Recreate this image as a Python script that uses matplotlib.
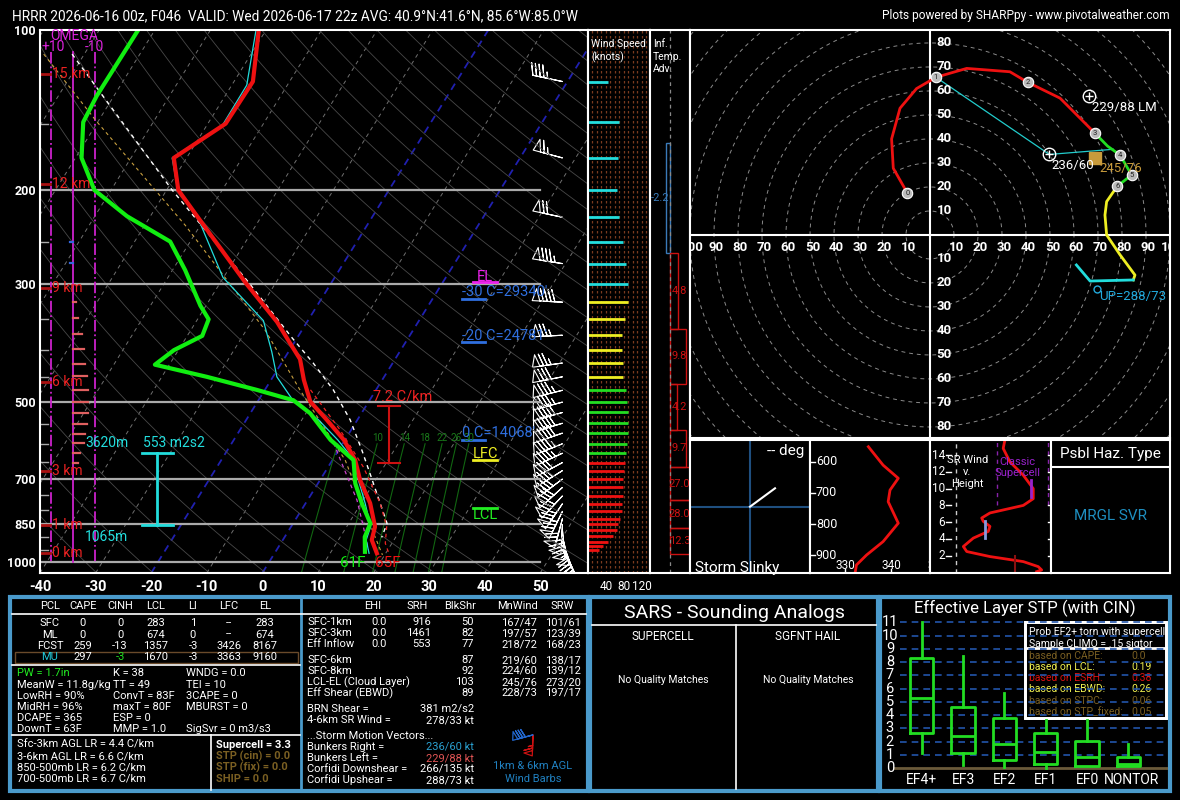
import numpy as np
import matplotlib
matplotlib.use('Agg')
import matplotlib.pyplot as plt
from matplotlib.patches import Rectangle
from matplotlib.ticker import NullLocator

plt.rcParams['font.family'] = ['Roboto', 'DejaVu Sans']

# ---------------- sounding data ----------------
temp_p = [100, 125, 150, 174, 200, 228, 300, 354, 388, 416, 455, 500, 541, 590, 644, 702, 776, 859, 910, 964]
temp_c = [-61.3, -56.6, -56.8, -62.3, -57.9, -50.6, -35.2, -25.4, -20.7, -17.1, -14.1, -10.5, -5.5, -0.2,
          4.1, 7.2, 11.6, 15.1, 16.0, 18.4]
dwpt_p = [100, 133, 149, 174, 200, 224, 250, 283, 330, 350, 376, 400, 426, 449, 475, 497, 526, 590, 644,
          712, 776, 847, 898, 958]
dwpt_c = [-83.0, -83.1, -82.6, -78.9, -73.0, -64.2, -53.6, -47.7, -41.0, -38.0, -37.3, -40.8, -42.6, -31.9,
          -21.5, -13.7, -9.2, -2.6, 3.8, 6.7, 10.1, 13.9, 14.4, 16.1]
wetb_p = [100, 127, 151, 174, 200, 228, 292, 352, 403, 449, 496, 541, 590, 644, 702, 776, 859, 910, 964]
wetb_c = [-61.8, -57.3, -57.2, -62.6, -58.0, -50.8, -40.1, -28.0, -23.0, -19.3, -13.9, -7.0, -1.3, 3.9,
          6.9, 10.7, 14.3, 15.0, 17.0]
parcel_p = [111, 200, 296, 380, 423, 475, 541, 617, 690, 755, 847, 900]
parcel_c = [-92.2, -59.0, -35.4, -20.8, -14.3, -7.7, -1.3, 4.2, 8.7, 12.3, 16.9, 17.5]
vparcel_p = [475, 565, 663, 776, 859, 923, 958]
vparcel_c = [-11.8, -2.0, 6.3, 13.4, 17.2, 18.8, 20.3]
moist_p = [111, 148, 233, 367, 476, 644, 872, 971]
moist_c = [-97.3, -80.5, -52.7, -26.6, -13.6, 2.3, 15.0, 19.6]
dcape_p = [598, 663, 766, 859, 950]
dcape_c = [-1.7, 2.7, 8.9, 13.0, 16.5]

wind_p = [125, 149, 174, 200, 225, 250, 275, 301, 325, 350, 375, 400, 423, 449, 476, 501, 524, 549, 573,
          600, 625, 651, 674, 699, 725, 752, 778, 804, 830, 851, 872, 895, 917, 933, 950]
wind_dir = [282, 286, 285, 283, 282, 281, 279, 276, 273, 270, 267, 264, 262, 259, 256, 255, 254, 253, 251,
            248, 245, 242, 238, 233, 228, 223, 214, 206, 195, 183, 175, 167, 160, 156, 152]
wind_spd = [44, 69, 66, 64, 70, 78, 84, 88, 88, 82, 75, 75, 77, 79, 84, 86, 88, 88, 88, 86, 84, 82, 81,
            79, 78, 77, 75, 75, 71, 66, 64, 56, 45, 34, 24]

omega_p = [250, 274, 325, 348, 373, 398, 424, 448, 475, 501, 525, 550, 575, 598, 625, 652]
omega_v = [1.4, 1.4, -1.4, -2.3, -4.0, -5.0, -5.5, -6.4, -6.8, -6.8, -6.8, -6.4, -5.5, -5.0, -3.2, -2.3]

hgt_km = [0, 1, 3, 6, 9, 12, 15]
hgt_p = [964, 852, 674, 460, 306, 195, 121]

mix_w = [6, 10, 14, 18, 22, 26, 30]

tadv_top = [163, 263, 364.5, 463, 565, 663.6, 765.5, 864]
tadv_bot = [263, 364.5, 463, 565, 663.6, 765.5, 864, 967]
tadv_val = [-2.2, 4.8, 9.8, 4.2, 9.7, 27.0, 28.0, 12.3]

hodo_u = [-9.4, -15.3, -16.0, -12.5, -5.6, 2.5, 15.3, 33.3, 40.7, 54.2, 68.75, 74.0, 79.2, 84.0, 78.0,
          73.6, 72.9, 73.6, 79.2, 85.4, 84.7, 66.7, 61.0]
hodo_v = [17.4, 27.8, 40.0, 52.8, 61.0, 65.7, 69.4, 68.0, 63.6, 57.0, 42.4, 37.0, 33.3, 25.0, 20.3,
          13.9, 8.3, 0.0, -8.3, -16.7, -18.75, -19.2, -12.5]
hodo_z = [0, 0.2, 0.4, 0.6, 0.8, 1, 1.3, 1.7, 2, 2.4, 3, 3.5, 4, 5, 6, 6.5, 7, 7.6, 8.2, 8.7, 9, 9.5, 10]
inflow_u = [2.5, 76.4]
inflow_v = [65.7, 35.7]
rm_dir, rm_spd = 236, 60
lm_dir, lm_spd = 229, 88
mw_dir, mw_spd = 245, 76
up_dir, up_spd = 288, 73

thetae_p = [552, 611, 653, 691, 728, 797, 856, 899, 931, 957]
thetae_k = [335.1, 338.3, 341.6, 339.8, 339.4, 341.6, 338.3, 334.7, 332.5, 332.2]

srw_z = [15.8, 14.8, 13.2, 11.6, 10.0, 8.8, 8.0, 7.1, 6.5, 6.1, 5.5, 4.9, 4.1, 3.1, 2.5, 1.9, 1.3, 0.7, 0.3, 0.1]
srw_kt = [48.1, 47.0, 51.3, 59.9, 66.3, 66.3, 59.9, 38.5, 33.2, 34.2, 38.5, 37.4, 27.8, 21.4, 23.6, 38.5,
          59.9, 69.5, 71.7, 68.5]

stp_cats = ['EF4+', 'EF3', 'EF2', 'EF1', 'EF0', 'NONTOR']
stp_whislo = [1.13, 0.25, 0.13, 0.0, 0.18, 0.18]
stp_q1 = [2.64, 1.13, 0.63, 0.33, 0.18, 0.18]
stp_med = [5.33, 2.46, 1.81, 1.2, 0.88, 0.33]
stp_q3 = [8.34, 4.6, 3.77, 2.69, 2.09, 0.83]
stp_whishi = [11.0, 8.47, 5.65, 3.64, 3.64, 1.83]

pcl_hdr = ['PCL', 'CAPE', 'CINH', 'LCL', 'LI', 'LFC', 'EL']
pcl_rows = [['SFC', '0', '0', '283', '1', '--', '283'],
            ['ML', '0', '0', '674', '0', '--', '674'],
            ['FCST', '259', '-13', '1357', '-3', '3426', '8167'],
            ['MU', '297', '-3', '1670', '-3', '3363', '9160']]
idx_col1 = ['PW = 1.7in', 'MeanW = 11.8g/kg', 'LowRH = 90%', 'MidRH = 96%', 'DCAPE = 365', 'DownT = 63F']
idx_col2 = ['K = 38', 'TT = 49', 'ConvT = 83F', 'maxT = 80F', 'ESP = 0', 'MMP = 1.0']
idx_col3 = ['WNDG = 0.0', 'TEI = 10', '3CAPE = 0', 'MBURST = 0', '', 'SigSvr = 0 m3/s3']
lapse_txt = ['Sfc-3km AGL LR = 4.4 C/km', '3-6km AGL LR = 6.6 C/km', '850-500mb LR = 6.2 C/km',
             '700-500mb LR = 6.7 C/km']
sev_txt = ['Supercell = 3.3', 'STP (cin) = 0.0', 'STP (fix) = 0.0', 'SHIP = 0.0']
kin_hdr = ['EHI', 'SRH', 'BlkShr', 'MnWind', 'SRW']
kin_rows = [['SFC-1km', '0.0', '916', '50', '167/47', '101/61'],
            ['SFC-3km', '0.0', '1461', '82', '197/57', '123/39'],
            ['Eff Inflow', '0.0', '553', '77', '218/72', '168/23'],
            ['SFC-6km', '', '', '87', '219/60', '138/17'],
            ['SFC-8km', '', '', '92', '224/60', '139/12'],
            ['LCL-EL (Cloud Layer)', '', '', '103', '245/76', '273/20'],
            ['Eff Shear (EBWD)', '', '', '89', '228/73', '197/17']]
motion_txt = [('BRN Shear =', '381 m2/s2'), ('4-6km SR Wind =', '278/33 kt')]
storm_txt = [('Bunkers Right =', '236/60 kt'), ('Bunkers Left =', '229/88 kt'),
             ('Corfidi Downshear =', '266/135 kt'), ('Corfidi Upshear =', '288/73 kt')]
prob_txt = [('based on CAPE:', '0.0'), ('based on LCL:', '0.19'), ('based on ESRH:', '0.38'),
            ('based on EBWD:', '0.26'), ('based on STPC:', '0.06'), ('based on STP_fixed:', '0.05')]
agl_dir = [182, 255]
agl_spd = [66, 78]

BROWN = '#7a5f22'
BLUE_BOX = '#4a9acb'
W, H = 1180, 800
fig = plt.figure(figsize=(W / 100, H / 100), dpi=100, facecolor='black')


def rect(x0, y0, x1, y1):
    return [x0 / W, 1 - y1 / H, (x1 - x0) / W, (y1 - y0) / H]


def uv(d, s):
    d = np.radians(np.asarray(d, float))
    s = np.asarray(s, float)
    return -s * np.sin(d), -s * np.cos(d)


# overlay in pixel coordinates for header and tables
ov = fig.add_axes([0, 0, 1, 1])
ov.set_xlim(0, W)
ov.set_ylim(H, 0)
ov.axis('off')


def t(x, y, s, c='white', size=8, ha='left', **kw):
    ov.text(x, y, s, color=c, fontsize=size, ha=ha, va='center', **kw)


t(12, 16, 'HRRR 2026-06-16 00z, F046  VALID: Wed 2026-06-17 22z AVG: 40.9°N:41.6°N, 85.6°W:85.0°W', size=9.9)
t(1170, 16, 'Plots powered by SHARPpy - www.pivotalweather.com', size=8.6, ha='right')

# ---------------- skew-T ----------------
PB, PT, SKEW = 1050.0, 100.0, 25.8


def skx(tc, p):
    return np.asarray(tc, float) + SKEW * np.log(PB / np.asarray(p, float))


sk = fig.add_axes(rect(40, 30, 588, 573))
sk.set_facecolor('black')
sk.set_yscale('log')
sk.set_ylim(PB, PT)
sk.set_xlim(-40, 58.6)
pp = np.geomspace(PB, PT, 80)
for tt in range(-170, 60, 10):
    if tt in (0, -20):
        sk.plot(skx(tt, pp), pp, color='#2020b0', ls=(0, (4, 3)), lw=1.3)
    else:
        sk.plot(skx(tt, pp), pp, color='#707070', ls=(0, (4, 4)), lw=0.7)
for th in range(230, 540, 10):
    sk.plot(skx(th * (pp / 1000.0) ** 0.2857 - 273.15, pp), pp, color='#484848', lw=0.6)
pm = np.geomspace(PB, 600, 30)
for w in mix_w:
    e = w * pm / (622.0 + w)
    lne = np.log(e / 6.112)
    td = 243.5 * lne / (17.67 - lne)
    sk.plot(skx(td, pm), pm, color='#116611', lw=0.8)
    if w >= 10:
        sk.text(skx(td[-1], 600)[()], 585, str(w), color='#1a7a1a', fontsize=7, ha='center', va='center')
for lev in [200, 300, 500, 700, 850, 1000]:
    sk.plot([-40, 50], [lev, lev], color='#aaaaaa', lw=1.6)
for lev in [150, 250, 350, 400, 450, 550, 600, 650, 750, 800, 900, 950]:
    sk.plot([-40, -38.6], [lev, lev], color='#aaaaaa', lw=1)

# omega
for xo, ls in [(-38.0, '-.'), (-30.1, '-.'), (-34.1, '-')]:
    sk.plot([xo, xo], [110, 1000], color='#cc22cc', ls=ls, lw=1.3)
for po, om in zip(omega_p, omega_v):
    sk.plot([-34.1, -34.1 - 0.396 * om], [po, po], color='#e06060' if om < 0 else '#3366dd', lw=1.6)
sk.text(-38.2, 102.6, 'OMEGA', color='#dd22dd', fontsize=10, va='center')
sk.text(-39.8, 107.7, '+10', color='#dd22dd', fontsize=10, va='center')
sk.text(-31.9, 107.7, '-10', color='#dd22dd', fontsize=10, va='center')

# heights
for km, hp in zip(hgt_km, hgt_p):
    sk.plot([-40, -38.2], [hp, hp], color='#aa1111', lw=2)
    sk.text(-37.8, hp, f'{km} km', color='#ee2222', fontsize=10, va='center')

# profiles
sk.plot(skx(moist_c, moist_p), moist_p, color='#c8a040', ls=(0, (3, 3)), lw=0.8)
sk.plot(skx(parcel_c, parcel_p), parcel_p, color='white', ls=(0, (3, 3)), lw=1)
sk.plot(skx(vparcel_c, vparcel_p), vparcel_p, color='#ee2222', ls=(0, (3, 3)), lw=0.9)
sk.plot(skx(dcape_c, dcape_p), dcape_p, color='#cc44cc', ls=(0, (3, 3)), lw=0.9)
sk.plot(skx(wetb_c, wetb_p), wetb_p, color='#22dddd', lw=0.9)
sk.plot(skx(temp_c, temp_p), temp_p, color='#ee1111', lw=3)
sk.plot(skx(dwpt_c, dwpt_p), dwpt_p, color='#11ee11', lw=3)
sk.text(16.2, 1005, '61F', color='#11ee11', fontsize=11, ha='center', va='center')
sk.text(22.6, 1005, '65F', color='#ee1111', fontsize=11, ha='center', va='center')

# effective inflow layer & lapse rate bars
sk.plot([-19.0, -19.0], [625, 852], color='#22dddd', lw=2)
for cp in (625, 852):
    sk.plot([-21.7, -16.1], [cp, cp], color='#22dddd', lw=2)
sk.text(-31.9, 597, '3620m', color='#22dddd', fontsize=10, va='center')
sk.text(-21.5, 597, '553 m2s2', color='#22dddd', fontsize=10, va='center')
sk.text(-31.9, 897, '1065m', color='#22dddd', fontsize=10, va='center')
sk.plot([22.8, 22.8], [509, 653], color='#cc1111', lw=1.5)
for cp in (509, 653):
    sk.plot([20.9, 24.8], [cp, cp], color='#cc1111', lw=1.5)
sk.text(25.3, 488, '7.2 C/km', color='#ee2222', fontsize=10.5, ha='center', va='center')

# level markers
sk.text(40.1, 291, 'EL', color='#ee22ee', fontsize=10.5, ha='center', va='center')
sk.plot([37.9, 42.3], [298, 298], color='#ee22ee', lw=2)
for lab, tp, lp in [("-30 C=29340'", 311.5, 320.7), ("-20 C=24781'", 377, 386), ("0 C=14068'", 573.5, 590)]:
    sk.text(36.0, tp, lab, color='#2f6fdf', fontsize=10.5, va='center')
    sk.plot([36.0, 40.1], [lp, lp], color='#2f6fdf', lw=2)
sk.text(40.1, 627, 'LFC', color='#eeee22', fontsize=10.5, ha='center', va='center')
sk.plot([37.9, 42.3], [644, 644], color='#eeee22', lw=2)
sk.text(40.1, 817, 'LCL', color='#22ee22', fontsize=10.5, ha='center', va='center')
sk.plot([37.9, 42.3], [791, 791], color='#22ee22', lw=2)

# wind barbs (hollow pennants, as SHARPpy draws them)
bu, bv = uv(wind_dir, wind_spd)
keep = [i for i in range(len(wind_p)) if wind_p[i] > 440 or i % 2 == 0]
sk.barbs(np.full(len(keep), 54.0), np.array(wind_p)[keep], bu[keep], bv[keep], barbcolor='white',
         flagcolor='black', length=6.6, linewidth=0.8)

sk.set_yticks([100, 200, 300, 500, 700, 850, 1000])
sk.set_yticklabels(['100', '200', '300', '500', '700', '850', '1000'], fontweight='bold')
sk.yaxis.set_minor_locator(NullLocator())
sk.set_xticks(range(-40, 60, 10))
sk.set_xticklabels([str(v) for v in range(-40, 60, 10)], fontweight='bold')
sk.tick_params(colors='white', length=0, labelsize=10.5, pad=5)
sk.tick_params(axis='y', labelsize=9, pad=3)
for s in sk.spines.values():
    s.set_color('white')
    s.set_linewidth(1.5)

# ---------------- wind speed panel ----------------
wsp = fig.add_axes(rect(588, 30, 650, 573))
wsp.set_facecolor('black')
wsp.set_yscale('log')
wsp.set_ylim(PB, PT)
wsp.set_xlim(0, 138)
for s in range(10, 140, 10):
    wsp.axvline(s, color='#7a3b1f', ls=(0, (2, 2)), lw=0.9)
wcol = ['#ee1111' if p > 640 else '#22dd22' if p > 460 else '#eeee22' if p > 306 else '#22dddd'
        for p in wind_p]
wsp.hlines(wind_p, 0, wind_spd, colors=wcol, lw=2)
wsp.set_yticks([])
wsp.yaxis.set_minor_locator(NullLocator())
wsp.set_xticks([40, 80, 120])
wsp.tick_params(colors='white', length=0, labelsize=8.5, pad=5)
for s in wsp.spines.values():
    s.set_color('white')
    s.set_linewidth(1.5)
wsp.text(0.05, 0.983, 'Wind Speed\n(knots)', transform=wsp.transAxes, color='white', fontsize=7.5,
         va='top', linespacing=1.3)

# ---------------- inferred temperature advection ----------------
ta = fig.add_axes(rect(650, 30, 690, 573))
ta.set_facecolor('black')
ta.set_yscale('log')
ta.set_ylim(PB, PT)
ta.set_xlim(-12.5, 12.5)
ta.axvline(0, color='#888888', ls=(0, (3, 3)), lw=0.9)
for p0, p1, val in zip(tadv_top, tadv_bot, tadv_val):
    col = '#cc1111' if val > 0 else '#3a7ab8'
    ta.add_patch(Rectangle((0, p0), val, p1 - p0, fill=False, edgecolor=col, lw=1))
    ta.text(6.0 if val > 0 else -6.2, np.sqrt(p0 * p1), f'{val:.1f}', color=col, fontsize=8,
            ha='center', va='center')
ta.set_xticks([])
ta.set_yticks([])
ta.yaxis.set_minor_locator(NullLocator())
for s in ta.spines.values():
    s.set_color('white')
    s.set_linewidth(1.5)
ta.text(0.08, 0.983, 'Inf.\nTemp.\nAdv.', transform=ta.transAxes, color='white', fontsize=7.5, va='top',
        linespacing=1.3)

# ---------------- hodograph ----------------
hd = fig.add_axes(rect(690, 30, 1170, 438))
hd.set_facecolor('black')
hd.set_xlim(-100, 100)
hd.set_ylim(-84.6, 85.4)
ang = np.linspace(0, 2 * np.pi, 240)
for r in range(10, 140, 10):
    hd.plot(r * np.cos(ang), r * np.sin(ang), color='#8a8a8a', ls=(0, (4, 4)), lw=0.7)
hd.axhline(0, color='white', lw=1.5)
hd.axvline(0, color='white', lw=1.5)
for k in range(10, 90, 10):
    hd.text(2.8, k, str(k), color='white', fontsize=9.5, va='center', fontweight='bold')
    hd.text(2.8, -k, str(k), color='white', fontsize=9.5, va='center', fontweight='bold')
for k in range(10, 110, 10):
    hd.text(k + 1, -5.3, str(k), color='white', fontsize=9.5, ha='center', va='center', fontweight='bold',
            clip_on=True)
    hd.text(-k + 1, -5.3, str(k), color='white', fontsize=9.5, ha='center', va='center', fontweight='bold',
            clip_on=True)
hu, hv, hz = np.array(hodo_u), np.array(hodo_v), np.array(hodo_z)
ru, rv = uv(rm_dir, rm_spd)
lu, lv = uv(lm_dir, lm_spd)
mu_, mv_ = uv(mw_dir, mw_spd)
uu, uv_ = uv(up_dir, up_spd)
for xi, yi in zip(inflow_u, inflow_v):
    hd.plot([ru, xi], [rv, yi], color='#22cccc', lw=0.9)
for lo, hi, col in [(0, 3, '#ee1111'), (3, 6, '#22dd22'), (6, 9, '#eeee22'), (9, 12, '#22dddd')]:
    m = (hz >= lo) & (hz <= hi)
    hd.plot(hu[m], hv[m], color=col, lw=2)
for k in range(7):
    i = int(np.where(hz == k)[0][0])
    hd.plot(hu[i], hv[i], 'o', ms=7.5, mfc='#bbbbbb', mec='white', mew=0.8)
    hd.text(hu[i], hv[i], str(k), fontsize=5.5, color='#222222', ha='center', va='center')
for x0, y0 in [(ru, rv), (lu, lv)]:
    hd.plot(x0, y0, 'o', ms=9, mfc='none', mec='white', mew=1)
    hd.plot(x0, y0, '+', ms=6, color='white', mew=1)
hd.plot(mu_, mv_, 's', ms=8, mfc='#c89b3c', mec='#c89b3c')
hd.plot(uu, uv_, 'o', ms=5, mfc='none', mec='#22aadd', mew=1)
hd.text(ru + 1, rv - 4.5, f'{rm_dir}/{rm_spd}', color='white', fontsize=9.5, va='center')
hd.text(lu + 1, lv - 4.5, f'{lm_dir}/{lm_spd} LM', color='white', fontsize=9.5, va='center')
hd.text(mu_ + 1.7, mv_ - 4.5, f'{mw_dir}/{mw_spd}', color='#c89b3c', fontsize=9.5, va='center')
hd.text(uu + 1.2, uv_ - 3, f'UP={up_dir}/{up_spd}', color='#22aadd', fontsize=9.5, va='center')
hd.set_xticks([])
hd.set_yticks([])
for s in hd.spines.values():
    s.set_color('white')
    s.set_linewidth(1.5)


def small_panel(x0, x1):
    a = fig.add_axes(rect(x0, 440, x1, 573))
    a.set_facecolor('black')
    a.set_xticks([])
    a.set_yticks([])
    for s in a.spines.values():
        s.set_color('white')
        s.set_linewidth(1.5)
    return a


# storm slinky
sl = small_panel(690, 810)
sl.set_xlim(-60, 60)
sl.set_ylim(-66.3, 66.7)
sl.axhline(0, color='#1f4f7f', lw=1.5)
sl.axvline(0, color='#1f4f7f', lw=1.5)
sl.plot([0, 25], [0, 18.4], color='white', lw=1.5)
sl.text(0.95, 0.92, '-- deg', transform=sl.transAxes, color='white', fontsize=11, ha='right', va='center')
sl.text(0.04, 0.04, 'Storm Slinky', transform=sl.transAxes, color='white', fontsize=11, va='center')

# theta-e
te = small_panel(810, 930)
te.set_xlim(322.4, 348.5)
te.set_ylim(956.7, 530.4)
te.plot(thetae_k, thetae_p, color='#ee1111', lw=2)
for lev in [600, 700, 800, 900]:
    te.plot([322.4, 323.4], [lev, lev], color='white', lw=1)
    te.text(326.0, lev, str(lev), color='white', fontsize=9, ha='center', va='center')
for k in [330, 340, 350]:
    te.plot([k, k], [945, 956.7], color='white', lw=1)
    te.text(k, 933, str(k), color='white', fontsize=8.5, ha='center', va='center')

# SR wind vs height
sr = small_panel(930, 1051)
sr.set_xlim(0, 77.7)
sr.set_ylim(-0.06, 15.8)
sr.axvline(16.5, color='#cccccc', ls=(0, (3, 3)), lw=1)
for xk in (43.2, 75.5):
    sr.plot([xk, xk], [8, 16], color='#8822aa', ls=(0, (3, 3)), lw=1)
for k in range(2, 16, 2):
    sr.plot([10.5, 13.5], [k, k], color='white', lw=1)
    sr.plot([75.5, 77.7], [k, k], color='white', lw=1)
    sr.text(9.8, k, str(k), color='white', fontsize=8.5, ha='right', va='center')
sr.plot(srw_kt, srw_z, color='#ee1111', lw=2)
sr.plot([64.6, 64.6], [9, 11], color='#9922cc', lw=2)
sr.plot([35.3, 35.3], [4.1, 6.2], color='#8899dd', lw=2)
sr.plot([54.6, 54.6], [0, 2], color='#881111', lw=1.5)
sr.text(24, 14.0, 'SR Wind\nv.\nHeight', color='white', fontsize=8, ha='center', va='top', linespacing=1.25)
sr.text(56, 12.5, 'Classic\nSupercell', color='#9922cc', fontsize=8, ha='center', va='center',
        linespacing=1.2)

# possible hazard
hz_ax = small_panel(1051, 1170)
hz_ax.set_xlim(0, 1)
hz_ax.set_ylim(1, 0)
hz_ax.axhline(26.7 / 133, color='white', lw=1.5)
hz_ax.text(0.5, 14 / 133, 'Psbl Haz. Type', color='white', fontsize=11, ha='center', va='center')
hz_ax.text(0.5, 76 / 133, 'MRGL SVR', color='#1e8fc0', fontsize=11, ha='center', va='center')

# ---------------- bottom tables ----------------
for x0, x1 in [(10, 588), (590, 878), (880, 1170)]:
    ov.add_patch(Rectangle((x0, 597), x1 - x0, 194, fill=False, edgecolor=BLUE_BOX, lw=3))
ov.plot([301, 301], [597, 791], color=BLUE_BOX, lw=2)
ov.plot([12, 586], [613.5, 613.5], color='white', lw=1.2)
ov.plot([12, 300], [665, 665], color='white', lw=1.2)
ov.plot([12, 300], [735, 735], color='white', lw=1.2)
ov.plot([211, 211], [735, 790], color='white', lw=1.2)

pcl_x = [50, 83, 120, 156, 193, 229, 265]
for x, s in zip(pcl_x, pcl_hdr):
    t(x, 606, s, ha='center')
for r, row in enumerate(pcl_rows):
    y = 623.3 + r * 11.2
    for c, (x, s) in enumerate(zip(pcl_x, row)):
        col = 'white'
        if row[0] == 'MU':
            col = '#22c8d8' if c == 0 else ('#22dd22' if c == 2 else 'white')
        t(x, y, s, c=col, ha='center')
ov.add_patch(Rectangle((15, 651.5), 283, 11.5, fill=False, edgecolor='#6a4a2a', lw=1))
for r in range(6):
    y = 673.3 + r * 11.2
    t(17, y, idx_col1[r], c='#22ee22' if r == 0 else 'white')
    t(113, y, idx_col2[r])
    t(186, y, idx_col3[r])
for r, s in enumerate(lapse_txt):
    t(17, 745 + r * 11.2, s)
for r, s in enumerate(sev_txt):
    t(216, 745 + r * 11.2, s, c='white' if r == 0 else BROWN, fontweight='bold')

kin_hx = [373, 417, 460, 518, 562]
kin_rx = [387, 431, 474, 537, 581]
for x, s in zip(kin_hx, kin_hdr):
    t(x, 606, s, ha='center')
for r, row in enumerate(kin_rows):
    y = [622.3, 633.3, 644.3, 660, 671, 682, 693][r]
    t(307, y, row[0])
    for x, s in zip(kin_rx, row[1:]):
        t(x, y, s, ha='right')
for r, (lab, val) in enumerate(motion_txt):
    t(307, 709 + r * 11, lab)
    t(474, 709 + r * 11, val, ha='right')
t(307, 736, '...Storm Motion Vectors...')
for r, (lab, val) in enumerate(storm_txt):
    col = ['#2aa0d0', '#e05555', 'white', 'white'][r]
    t(307, 747 + r * 11, lab)
    t(474, 747 + r * 11, val, c=col, ha='right')
t(533, 766, '1km & 6km AGL', c='#2080c0', ha='center')
t(533, 779, 'Wind Barbs', c='#2080c0', ha='center')
bb = fig.add_axes(rect(505, 722, 561, 765))
bb.set_xlim(0, 1)
bb.set_ylim(0, 1)
bb.axis('off')
au, av = uv(agl_dir, agl_spd)
bb.barbs([0.5, 0.5], [0.7, 0.7], au, av, barbcolor=['#cc1111', '#2266cc'], flagcolor='black',
         length=5.5, linewidth=0.9)

t(734, 612.5, 'SARS - Sounding Analogs', size=14, ha='center')
ov.plot([592, 876], [625, 625], color='white', lw=1.2)
ov.plot([736, 736], [625, 789], color='white', lw=1.2)
t(663, 636.5, 'SUPERCELL', size=8.5, ha='center')
t(808, 636.5, 'SGFNT HAIL', size=8.5, ha='center')
t(663, 680, 'No Quality Matches', size=7.5, ha='center')
t(808, 680, 'No Quality Matches', size=7.5, ha='center')

t(1025, 608, 'Effective Layer STP (with CIN)', size=12, ha='center')

# ---------------- STP box plots ----------------
st = fig.add_axes(rect(882, 617, 1168, 772))
st.set_facecolor('black')
st.set_xlim(0.039, 6.96)
st.set_ylim(-0.28, 11.4)
st.axis('off')
for k in range(1, 12):
    st.hlines(k, 0.47, 6.96, color='#2255aa', ls=(0, (4, 3)), lw=1.2)
st.hlines(0, 0.3, 6.96, color='#6b5a3a', lw=2)
for k in range(0, 12):
    st.text(0.23, k, str(k), color='white', fontsize=10.5, ha='center', va='center')
stats = [dict(whislo=a, q1=b, med=c, q3=d, whishi=e, fliers=[])
         for a, b, c, d, e in zip(stp_whislo, stp_q1, stp_med, stp_q3, stp_whishi)]
gp = dict(color='#22dd22', lw=2)
st.bxp(stats, positions=range(1, 7), widths=0.56, showfliers=False, showcaps=False, boxprops=gp,
       whiskerprops=gp, medianprops=gp)
for i, name in enumerate(stp_cats):
    st.text(i + 1 + (0.08 if name == 'NONTOR' else 0), -0.85, name, color='white', fontsize=10,
            ha='center', va='center', clip_on=False)
pr = Rectangle((1025, 622.3), 141, 96, facecolor='black', edgecolor='white', lw=2)
ov.add_patch(pr)
ov.add_patch(Rectangle((1025, 622.3), 141, 96, fill=False, edgecolor='white', lw=2, zorder=6))
ov.plot([1025, 1166], [648.3, 648.3], color='white', lw=2, zorder=6)
for s, y in [('Prob EF2+ torn with supercell', 632.3), ('Sample CLIMO = .15 sigtor', 643.7)]:
    tx = ov.text(1029, y, s, color='white', fontsize=7.5, va='center', zorder=5)
    tx.set_clip_path(pr)
pcols = [BROWN, '#f0f050', '#dd1111', '#f0f050', BROWN, BROWN]
for r, ((lab, val), col) in enumerate(zip(prob_txt, pcols)):
    y = 655.7 + r * 11.2
    ov.text(1029, y, lab, color=col, fontsize=7.5, va='center', zorder=5)
    ov.text(1131.7, y, val, color=col, fontsize=7.5, va='center', zorder=5)

fig.savefig('out.png', dpi=100, facecolor='black')
